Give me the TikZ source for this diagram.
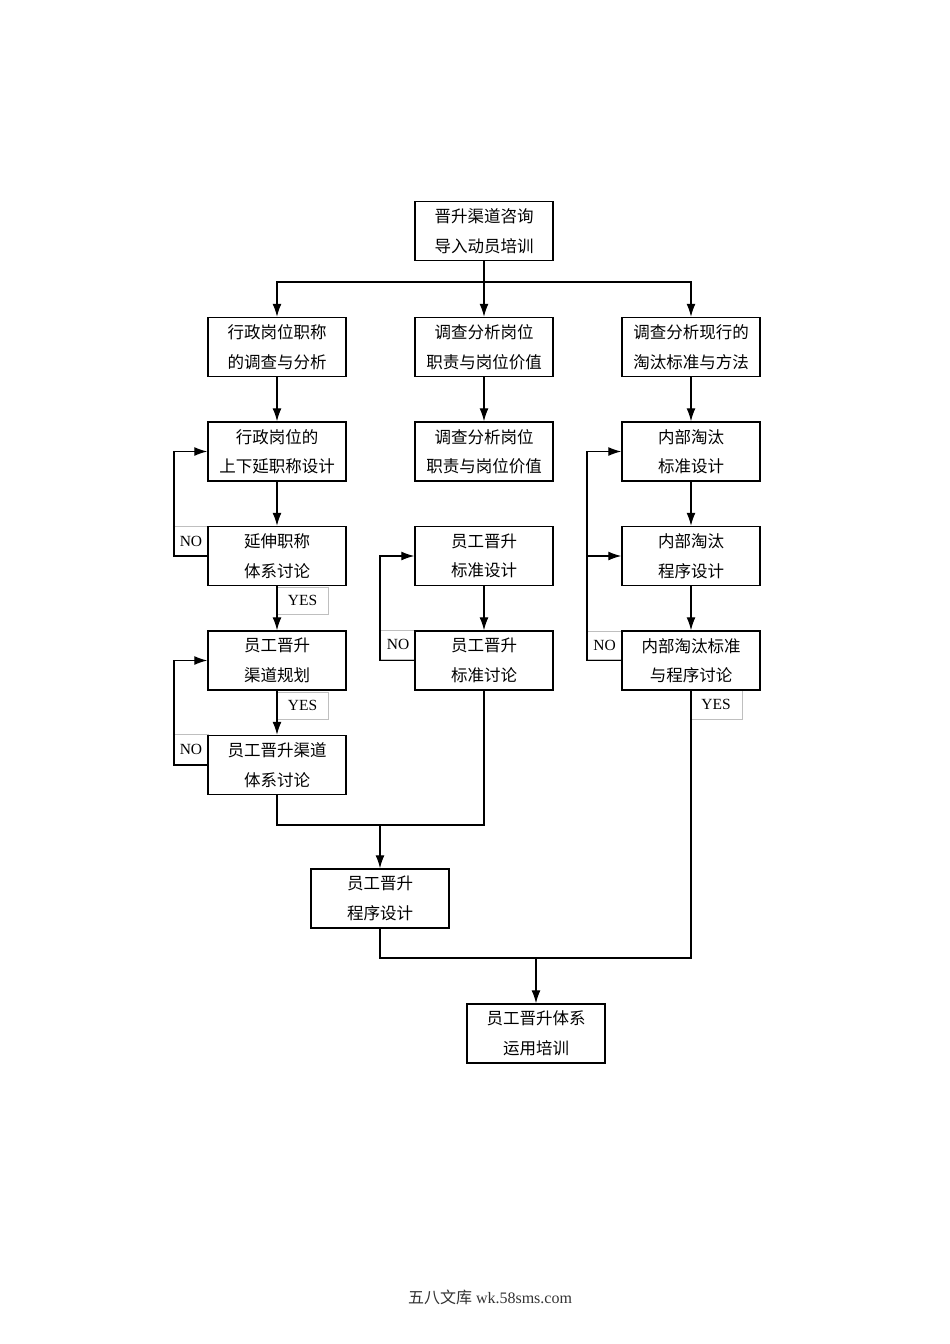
\documentclass[tikz,border=0pt]{standalone}
\usepackage{fontspec}
\setmainfont{Liberation Serif}
\newfontfamily\cjk{Noto Sans CJK SC}
\usetikzlibrary{arrows.meta}
\begin{document}
\begin{tikzpicture}[x=1pt,y=-1pt,
  box/.style={draw, line width=1.5pt, minimum width=138pt, minimum height=59pt, inner sep=0pt, align=center, font=\cjk\fontsize{16.5}{29.5}\selectfont},
  lbl/.style={draw=black!25, line width=0.6pt, inner sep=0pt, font=\fontsize{15.5}{15.5}\selectfont},
  ln/.style={line width=1.2pt},
  arr/.style={line width=1.2pt, -{Latex[length=13pt,width=9pt]}}]
\useasboundingbox (0,0) rectangle (950,1344);
% label boxes (drawn first)
\node[lbl, minimum width=34pt, minimum height=30pt] (no1) at (191,541) {NO};
\node[lbl, minimum width=34pt, minimum height=31pt] (no2) at (191,749.5) {NO};
\node[lbl, minimum width=36pt, minimum height=29pt] (no3) at (398,644.5) {NO};
\node[lbl, minimum width=35pt, minimum height=28pt] (no4) at (604.5,645) {NO};
\node[lbl, minimum width=51pt, minimum height=27pt] (yes1) at (302.5,600.5) {YES};
\node[lbl, minimum width=51pt, minimum height=27pt] (yes2) at (302.5,705.5) {YES};
\node[lbl, minimum width=52pt, minimum height=29pt] (yes3) at (716,704.5) {YES};
% boxes
\node[box, fill=white] (top) at (484,231) {晋升渠道咨询\\导入动员培训};
\node[box, fill=white] (a1) at (277,347) {行政岗位职称\\的调查与分析};
\node[box, fill=white] (b1) at (484,347) {调查分析岗位\\职责与岗位价值};
\node[box, fill=white] (c1) at (691,347) {调查分析现行的\\淘汰标准与方法};
\node[box, fill=white] (a2) at (277,451.5) {行政岗位的\\上下延职称设计};
\node[box, fill=white] (b2) at (484,451.5) {调查分析岗位\\职责与岗位价值};
\node[box, fill=white] (c2) at (691,451.5) {内部淘汰\\标准设计};
\node[box, fill=white] (a3) at (277,556) {延伸职称\\体系讨论};
\node[box, fill=white] (b3) at (484,556) {员工晋升\\标准设计};
\node[box, fill=white] (c3) at (691,556) {内部淘汰\\程序设计};
\node[box, fill=white] (a4) at (277,660.5) {员工晋升\\渠道规划};
\node[box, fill=white] (b4) at (484,660.5) {员工晋升\\标准讨论};
\node[box, fill=white] (c4) at (691,660.5) {内部淘汰标准\\与程序讨论};
\node[box, fill=white] (a5) at (277,765) {员工晋升渠道\\体系讨论};
\node[box, fill=white] (d) at (380,898.5) {员工晋升\\程序设计};
\node[box, fill=white] (e) at (536,1033.5) {员工晋升体系\\运用培训};
% top distribution
\coordinate (jt) at (484,282);
\draw[arr] (top.south) -- (b1.north);
\draw[arr] (jt) -| (a1.north);
\draw[arr] (jt) -| (c1.north);
% vertical chains
\draw[arr] (a1) -- (a2);
\draw[arr] (b1) -- (b2);
\draw[arr] (c1) -- (c2);
\draw[arr] (a2) -- (a3);
\draw[arr] (a3) -- (a4);
\draw[arr] (a4) -- (a5);
\draw[arr] (b3) -- (b4);
\draw[arr] (c2) -- (c3);
\draw[arr] (c3) -- (c4);
% NO loops
\draw[arr] (a3.west) -- (174,556) |- (a2.west);
\draw[arr] (a5.west) -- (174,765) |- (a4.west);
\draw[arr] (b4.west) -- (380,660.5) |- (b3.west);
\draw[arr] (c4.west) -- (587,660.5) |- (c2.west);
\draw[arr] (587,556) -- (c3.west);
% merges
\coordinate (j1) at (380,825);
\draw[ln] (a5.south) |- (j1) -| (b4.south);
\draw[arr] (j1) -- (d.north);
\coordinate (j2) at (536,958);
\draw[ln] (d.south) |- (j2) -| (c4.south);
\draw[arr] (j2) -- (e.north);
% footer
\node[font=\fontsize{16}{16}\selectfont, text=black!80] (foot) at (490,1297) {{\cjk 五八文库} wk.58sms.com};
\end{tikzpicture}
\end{document}
